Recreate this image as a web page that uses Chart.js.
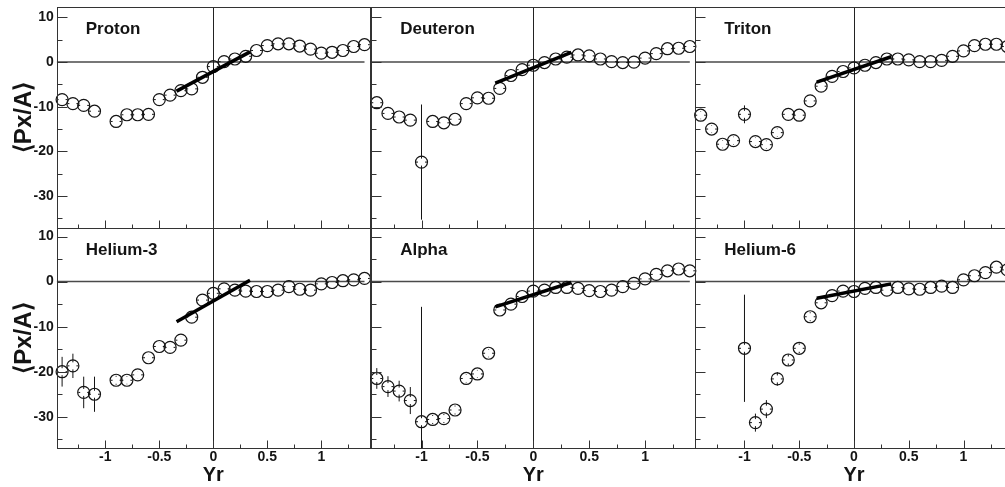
<!DOCTYPE html>
<html>
<head>
<meta charset="utf-8">
<script src="https://cdn.jsdelivr.net/npm/chart.js@4/dist/chart.umd.min.js"></script>
<style>
html, body { margin:0; padding:0; background:#fff; overflow:hidden; width:1005px; height:487px; position:relative; }
canvas { position:absolute; left:0; top:0; }
</style>
</head>
<body>
<script>
// ---------------- data ----------------
const yr = [-1.4,-1.3,-1.2,-1.1,-1.0,-0.9,-0.8,-0.7,-0.6,-0.5,-0.4,-0.3,-0.2,-0.1,0,0.1,0.2,0.3,0.4,0.5,0.6,0.7,0.8,0.9,1.0,1.1,1.2,1.3,1.4];

const panelNames = ['Proton','Deuteron','Triton','Helium-3','Alpha','Helium-6'];

const proton   = [-8.4,-9.3,-9.7,-11.0,null,-13.3,-11.8,-11.8,-11.7,-8.4,-7.4,-6.4,-6.0,-3.4,-1.0,0.1,0.7,1.3,2.6,3.7,4.1,4.1,3.6,2.9,2.0,2.2,2.6,3.5,3.9];
const deuteron = [-9.1,-11.5,-12.3,-13.0,-22.4,-13.3,-13.6,-12.8,-9.3,-8.0,-8.1,-5.9,-3.0,-1.7,-0.7,-0.1,0.7,1.1,1.6,1.4,0.7,0.1,-0.1,0.0,0.9,1.9,3.0,3.1,3.5];
const triton   = [-11.9,-15.0,-18.4,-17.6,-11.7,-17.8,-18.5,-15.8,-11.7,-11.9,-8.7,-5.4,-3.2,-2.1,-1.3,-0.7,-0.1,0.7,0.7,0.5,0.1,0.1,0.4,1.3,2.5,3.7,4.0,4.0,3.5];
const helium3  = [-20.0,-18.7,-24.6,-25.0,null,-21.9,-21.9,-20.7,-16.9,-14.4,-14.6,-13.0,-7.9,-4.1,-2.6,-1.6,-1.9,-2.1,-2.2,-2.2,-1.9,-1.1,-1.7,-1.9,-0.5,-0.2,0.2,0.4,0.7];
const alpha    = [-21.5,-23.3,-24.3,-26.4,-31.1,-30.6,-30.4,-28.5,-21.5,-20.5,-15.9,-6.3,-5.0,-3.3,-2.1,-1.9,-1.3,-1.3,-1.5,-2.0,-2.2,-1.9,-1.1,-0.4,0.6,1.6,2.4,2.8,2.4];
const helium6  = [null,null,null,null,-14.8,-31.3,-28.3,-21.6,-17.4,-14.8,-7.8,-4.7,-3.1,-2.1,-2.2,-1.5,-1.3,-1.9,-1.3,-1.6,-1.7,-1.3,-1.0,-1.3,0.4,1.3,2.0,3.2,2.6];

// vertical (statistical) errors
const protonErr   = [0.4,0.4,0.4,0.4,null,0.4,0.4,0.4,0.4,0.4,0.4,0.4,0.4,0.4,0.4,0.4,0.4,0.4,0.4,0.4,0.4,0.4,0.4,0.4,0.4,0.4,0.4,0.4,0.4];
const deuteronErr = [0.5,0.5,0.5,0.5,12.9,0.5,0.5,0.5,0.4,0.4,0.4,0.4,0.4,0.4,0.4,0.4,0.4,0.4,0.4,0.4,0.4,0.4,0.4,0.4,0.4,0.4,0.4,0.4,0.4];
const tritonErr   = [0.9,0.9,0.9,0.9,2.0,0.9,0.9,0.9,0.8,0.8,0.6,0.5,0.4,0.4,0.4,0.4,0.4,0.4,0.4,0.4,0.4,0.4,0.4,0.4,0.4,0.4,0.4,0.4,0.4];
const helium3Err  = [3.3,2.7,3.5,3.9,null,1.0,0.9,0.8,0.8,0.8,0.8,0.8,0.6,0.5,0.5,0.4,0.4,0.4,0.4,0.4,0.4,0.4,0.4,0.4,0.4,0.4,0.4,0.4,0.4];
const alphaErr    = [2.3,2.3,2.3,3.0,25.5,1.0,1.0,1.0,0.9,0.9,0.9,0.6,0.5,0.5,0.5,0.4,0.4,0.4,0.4,0.4,0.4,0.4,0.4,0.4,0.4,0.4,0.4,0.4,0.4];
const helium6Err  = [null,null,null,null,11.9,2.0,2.0,1.5,1.3,1.1,1.0,0.8,0.6,0.5,0.5,0.5,0.5,0.5,0.5,0.5,0.5,0.5,0.5,0.5,0.5,0.5,0.5,0.5,0.5];
const xErr = 0.05;   // half bin width in Yr

// linear fits around mid-rapidity: endpoints
const fitX        = [-0.34, 0.34];
const protonFit   = [-6.5, 2.3];
const deuteronFit = [-4.7, 2.2];
const tritonFit   = [-4.5, 1.2];
const helium3Fit  = [-8.9, 0.3];
const alphaFit    = [-5.6, -0.2];
const helium6Fit  = [-3.7, -0.5];

// tick labels
const xTickLabels = [-1, -0.5, 0, 0.5, 1];
const xMinorTicks = [-1.25, -0.75, -0.25, 0.25, 0.75, 1.25];
const yTickLabels = [10, 0, -10, -20, -30];
const yMinorTicks = [5, -5, -15, -25, -35];
const zeroLineXEnd = 1.4;
const xTitle = 'Yr';
const yTitle = '\u27E8Px/A\u27E9';

// ---------------- layout ----------------
const W = 1020, H = 487;
const colLeft   = [56.7, 371.2, 695.2];
const colRight  = [369.9, 695.4, 1014.2];
const rowTop    = [5.3, 228];
const rowBottom = [227.7, 448.3];
const rowYMin = [-37.1, -37.0];
const rowYMax = [12.3, 11.9];
const xMin = -1.45, xMax = 1.45;
const FONT = '"Liberation Sans", Arial, Helvetica, sans-serif';
const INK = '#141414';

const panels = [
  {name: panelNames[0], vals: proton,   err: protonErr,   fit: protonFit},
  {name: panelNames[1], vals: deuteron, err: deuteronErr, fit: deuteronFit},
  {name: panelNames[2], vals: triton,   err: tritonErr,   fit: tritonFit},
  {name: panelNames[3], vals: helium3,  err: helium3Err,  fit: helium3Fit},
  {name: panelNames[4], vals: alpha,    err: alphaErr,    fit: alphaFit},
  {name: panelNames[5], vals: helium6,  err: helium6Err,  fit: helium6Fit},
];

function makeDecor(p) {
  return {
    id: 'decor',
    beforeDatasetsDraw(chart) {
      const {ctx, chartArea: a, scales: {x, y}} = chart;
      ctx.save();
      ctx.beginPath(); ctx.rect(a.left, a.top, a.right - a.left, a.bottom - a.top); ctx.clip();
      const y0 = y.getPixelForValue(0);
      ctx.strokeStyle = '#4a4a4a'; ctx.lineWidth = 1.5;
      ctx.beginPath(); ctx.moveTo(a.left, y0); ctx.lineTo(x.getPixelForValue(zeroLineXEnd), y0); ctx.stroke();
      const x0 = Math.round(x.getPixelForValue(0)) + 0.5;
      ctx.strokeStyle = '#222'; ctx.lineWidth = 1;
      ctx.beginPath(); ctx.moveTo(x0, a.top); ctx.lineTo(x0, a.bottom); ctx.stroke();
      ctx.restore();
    },
    afterDatasetsDraw(chart) {
      const {ctx, chartArea: a, scales: {x, y}} = chart;
      // error bars
      ctx.save();
      ctx.beginPath(); ctx.rect(a.left, a.top, a.right - a.left, a.bottom - a.top); ctx.clip();
      ctx.strokeStyle = INK; ctx.lineWidth = 1;
      const gap = 3.5;
      const exPx = Math.abs(x.getPixelForValue(xErr) - x.getPixelForValue(0));
      yr.forEach((xv, i) => {
        const v = p.vals[i];
        if (v === null) return;
        const px = x.getPixelForValue(xv), py = y.getPixelForValue(v);
        const eyPx = Math.abs(y.getPixelForValue(p.err[i]) - y.getPixelForValue(0));
        ctx.beginPath();
        if (exPx > gap) {
          ctx.moveTo(px - exPx, py); ctx.lineTo(px - gap, py);
          ctx.moveTo(px + gap, py); ctx.lineTo(px + exPx, py);
        }
        if (eyPx > gap) {
          ctx.moveTo(px, py - eyPx); ctx.lineTo(px, py - gap);
          ctx.moveTo(px, py + gap); ctx.lineTo(px, py + eyPx);
        }
        ctx.stroke();
      });
      ctx.restore();

      ctx.save();
      // frame
      ctx.strokeStyle = '#333'; ctx.lineWidth = 1;
      const L = Math.round(a.left) + 0.5, R = Math.round(a.right) + 0.5;
      const T = Math.round(a.top) + 0.5, B = Math.round(a.bottom) + 0.5;
      ctx.strokeRect(L, T, R - L, B - T);
      // ticks (inside the frame)
      ctx.beginPath();
      yTickLabels.forEach(v => { const py = Math.round(y.getPixelForValue(v)) + 0.5; ctx.moveTo(L, py); ctx.lineTo(L + 10, py); });
      yMinorTicks.forEach(v => { const py = Math.round(y.getPixelForValue(v)) + 0.5; ctx.moveTo(L, py); ctx.lineTo(L + 5, py); });
      xTickLabels.forEach(v => { const px = Math.round(x.getPixelForValue(v)) + 0.5; ctx.moveTo(px, B); ctx.lineTo(px, B - 8); });
      xMinorTicks.forEach(v => { const px = Math.round(x.getPixelForValue(v)) + 0.5; ctx.moveTo(px, B); ctx.lineTo(px, B - 4); });
      ctx.stroke();
      // panel name
      ctx.fillStyle = INK;
      ctx.font = 'bold 17px ' + FONT;
      ctx.textAlign = 'left'; ctx.textBaseline = 'middle';
      ctx.fillText(p.name, a.left + 29, a.top + 22);
      ctx.restore();
    }
  };
}

panels.forEach((p, k) => {
  const r = Math.floor(k / 3), c = k % 3;
  const cv = document.createElement('canvas');
  cv.width = W; cv.height = H;
  cv.style.width = W + 'px'; cv.style.height = H + 'px';
  document.body.appendChild(cv);

  const pts = [];
  yr.forEach((xv, i) => { if (p.vals[i] !== null) pts.push({x: xv, y: p.vals[i]}); });
  const fitPts = fitX.map((xv, i) => ({x: xv, y: p.fit[i]}));

  new Chart(cv, {
    type: 'scatter',
    data: {
      datasets: [
        { data: pts, order: 1, showLine: false, clip: false,
          pointStyle: 'circle', pointRadius: 6, pointHoverRadius: 6,
          borderColor: INK, borderWidth: 1.2, backgroundColor: 'rgba(0,0,0,0)' },
        { data: fitPts, order: 0, showLine: true, borderColor: '#000', borderWidth: 3.5,
          borderCapStyle: 'butt', pointRadius: 0, pointHoverRadius: 0, fill: false }
      ]
    },
    options: {
      responsive: false, animation: false, devicePixelRatio: 1, events: [],
      layout: { padding: {
        left: c === 0 ? 0 : colLeft[c],
        right: W - colRight[c],
        top: rowTop[r],
        bottom: r === 1 ? 0 : H - rowBottom[r]
      }},
      plugins: { legend: {display: false}, tooltip: {enabled: false}, title: {display: false} },
      scales: {
        x: {
          type: 'linear', position: 'bottom', min: xMin, max: xMax,
          grid: {display: false, drawTicks: false}, border: {display: false},
          ticks: { display: r === 1, autoSkip: false, padding: 0, maxRotation: 0,
                   font: {family: FONT, size: 14, weight: 'bold'}, color: INK,
                   callback: v => String(v) },
          afterBuildTicks: s => { s.ticks = xTickLabels.map(v => ({value: v})); },
          afterFit: s => { s.height = r === 1 ? H - rowBottom[1] : 0;
                           s.paddingLeft = 0; s.paddingRight = 0; s.paddingTop = 0; s.paddingBottom = 0; },
          title: { display: r === 1, text: xTitle, color: INK,
                   font: {family: FONT, size: 20, weight: 'bold'}, padding: {top: 0, bottom: 0} }
        },
        y: {
          type: 'linear', position: 'left', min: rowYMin[r], max: rowYMax[r],
          grid: {display: false, drawTicks: false}, border: {display: false},
          ticks: { display: c === 0, autoSkip: false, padding: 3,
                   font: {family: FONT, size: 14, weight: 'bold'}, color: INK,
                   callback: v => String(v) },
          afterBuildTicks: s => { s.ticks = yTickLabels.map(v => ({value: v})); },
          afterFit: s => { s.width = c === 0 ? colLeft[0] : 0;
                           s.paddingLeft = 0; s.paddingRight = 0; s.paddingTop = 0; s.paddingBottom = 0; },
          title: { display: c === 0, text: yTitle, color: INK,
                   font: {family: FONT, size: 24, weight: 'bold'}, padding: {top: 10, bottom: 0} }
        }
      }
    },
    plugins: [makeDecor(p)]
  });
});
</script>
</body>
</html>
